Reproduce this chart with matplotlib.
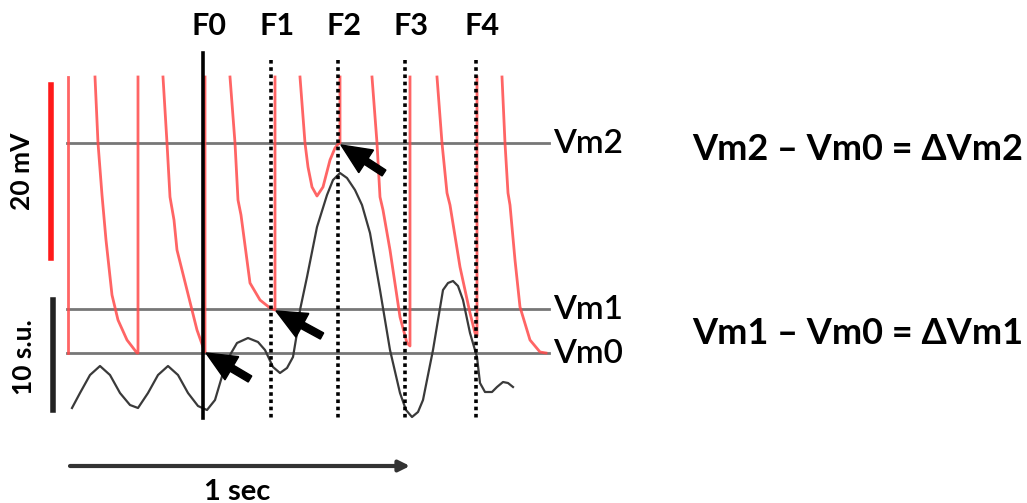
"""Schematic: red Vm trace, black signal, frame markers F0-F4 and Vm levels."""

import numpy as np
import matplotlib.pyplot as plt

plt.rcParams['font.family'] = ['Lato', 'DejaVu Sans']

# frame markers (x position in px) and labels
frame_labels = ["F0", "F1", "F2", "F3", "F4"]
frame_x = [203, 271, 338, 405, 476]

# membrane potential levels (y in px)
level_labels = ["Vm2", "Vm1", "Vm0"]
level_y = [143, 309, 353]

# red Vm trace: decay + rise chains, each chain ends at the top (clipped)
red_chains_x = [
    [68, 68],
    [95, 98, 102, 106, 112, 118, 127, 137, 138, 138],
    [163, 167, 170, 174, 177, 187, 197, 203, 205, 205],
    [230, 235, 238, 241, 250, 260, 270, 275, 275],
    [300, 305, 308, 312, 317, 323, 330, 335, 339, 340, 340],
    [372, 377, 380, 383, 390, 400, 407, 410, 410],
    [437, 442, 447, 450, 460, 470, 475, 477, 477],
    [502, 505, 508, 510, 515, 520, 530, 540, 546],
]
red_chains_y = [
    [353, 77],
    [77, 143, 195, 240, 295, 320, 340, 353, 353, 77],
    [77, 143, 197, 220, 250, 290, 330, 347, 352, 77],
    [77, 143, 200, 215, 283, 300, 308, 310, 77],
    [77, 143, 167, 187, 196, 187, 160, 148, 143, 143, 77],
    [77, 143, 197, 210, 250, 317, 343, 346, 77],
    [77, 143, 193, 205, 267, 313, 333, 336, 77],
    [77, 143, 193, 205, 260, 307, 340, 352, 353],
]

# black signal trace
sig_x = [72, 80, 90, 100, 110, 120, 130, 138, 148, 158, 168, 178, 188, 198,
         207, 215, 223, 230, 237, 248, 258, 265, 273, 280, 287, 293, 297, 300,
         307, 317, 327, 333, 340, 347, 355, 362, 370, 380, 390, 400, 406, 412,
         418, 423, 433, 443, 448, 453, 458, 463, 470, 477, 480, 485, 492, 497,
         503, 508, 513]
sig_y = [408, 393, 375, 366, 375, 393, 405, 408, 393, 375, 366, 375, 393, 406,
         410, 400, 373, 355, 343, 338, 342, 350, 367, 373, 368, 357, 333, 310,
         277, 227, 195, 180, 173, 178, 190, 205, 233, 290, 350, 393, 410, 417,
         412, 400, 350, 290, 283, 281, 286, 300, 333, 357, 383, 392, 392, 387,
         382, 383, 387]

# pointer arrows: (tail, tip)
arrow_tails = [(250, 379), (322, 336), (384, 173)]
arrow_tips = [(206, 353), (276, 311), (341, 145)]

equations = ["Vm2 \u2013 Vm0 = \u0394Vm2", "Vm1 \u2013 Vm0 = \u0394Vm1"]
equation_y = [149, 334]

fig = plt.figure(figsize=(10.27, 5.03), dpi=100)
ax = fig.add_axes([0, 0, 1, 1])
ax.set_xlim(0, 1027)
ax.set_ylim(503, 0)
ax.axis('off')

# level lines
for y in level_y:
    ax.plot([67, 549], [y, y], color='#777777', lw=2, zorder=1)
for lab, y in zip(level_labels, level_y):
    ax.text(553, y + 1, lab, fontsize=24, fontweight='semibold',
            va='center', ha='left')

# red trace
for xs, ys in zip(red_chains_x, red_chains_y):
    ax.plot(xs, ys, color='#ff4a4a', lw=2, alpha=0.85, zorder=2,
            solid_joinstyle='round')

# black signal
ax.plot(sig_x, sig_y, color='#3a3a3a', lw=1.6, zorder=3)

# frame lines
for i, (lab, x) in enumerate(zip(frame_labels, frame_x)):
    if i == 0:
        ax.plot([x, x], [53, 418], color='black', lw=2.6, zorder=4)
    else:
        ax.plot([x, x], [60, 418], color='black', lw=2.6,
                linestyle=(0, (1, 1)), zorder=4)
    ax.text(x + 6, 26, lab, fontsize=22, fontweight='bold', ha='center', va='center')

# pointer arrows
for (tx, ty), (hx, hy) in zip(arrow_tails, arrow_tips):
    ax.arrow(tx, ty, hx - tx, hy - ty, width=7, head_width=27, head_length=30,
             length_includes_head=True, fc='black', ec='black', zorder=5)

# scale bars
ax.plot([51, 51], [85, 258], color='#ff1a1a', lw=4)
ax.text(22, 171, "20 mV", fontsize=19, fontweight='bold', rotation=90,
        ha='center', va='center')
ax.plot([53, 53], [300, 410], color='#222222', lw=4)
ax.text(24, 357, "10 s.u.", fontsize=19, fontweight='bold', rotation=90,
        ha='center', va='center')

# time arrow
ax.annotate('', xy=(410, 466), xytext=(70, 466),
            arrowprops=dict(arrowstyle='-|>', lw=3, color='#333333',
                            mutation_scale=16, shrinkA=0, shrinkB=0))
ax.text(237, 479, "1 sec", fontsize=21, fontweight='bold', ha='center', va='top')

# equations
for eq, y in zip(equations, equation_y):
    ax.text(692, y, eq, fontsize=26, fontweight='bold', ha='left', va='center')

fig.savefig('out.png', dpi=100)
